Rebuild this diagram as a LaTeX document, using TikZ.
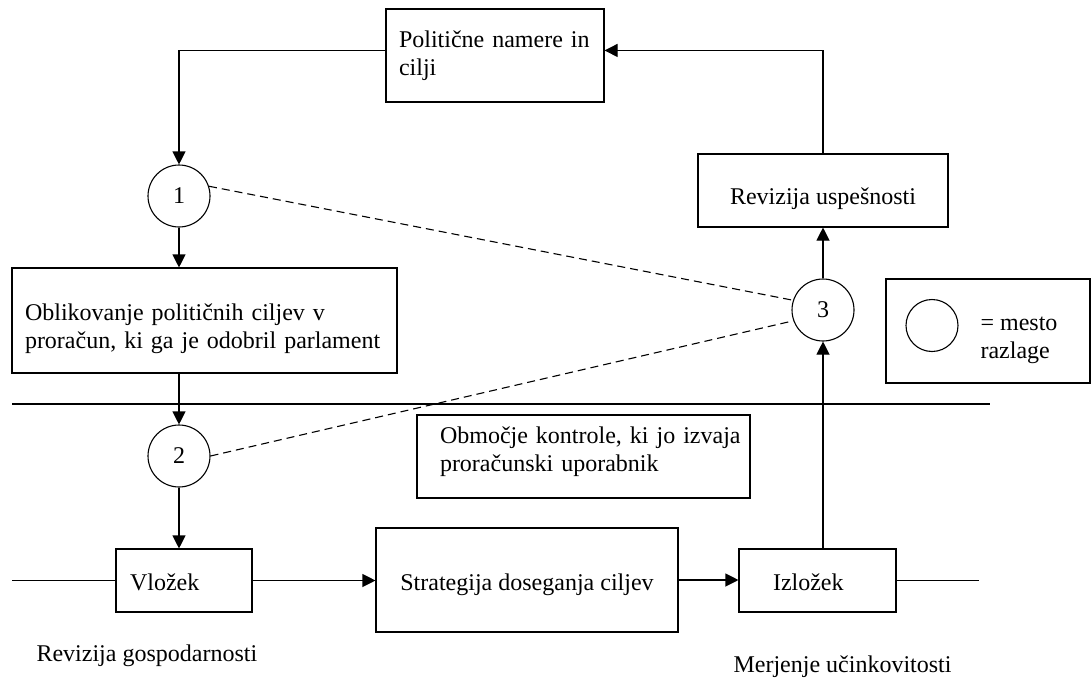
\documentclass[tikz,border=0pt]{standalone}
\usepackage{fontspec}
\setmainfont{Liberation Serif}
\usetikzlibrary{calc}
\usetikzlibrary{arrows.meta}

\begin{document}
\begin{tikzpicture}[x=1pt,y=-1pt,line width=1.1pt,>={Triangle[length=13pt,width=13pt]},font=\fontsize{24}{28}\selectfont] %% tikz nodes
	\tikzstyle{box}=[rectangle,draw,inner ysep=0pt,align=left];
	\tikzstyle{place}=[circle,draw,inner sep=0pt,minimum size=62pt];
	\tikzstyle{cut}=[dash pattern=on 8pt off 5pt];
	\useasboundingbox (0,0) rectangle (1091,677);
	\node[box,inner xsep=13pt,text width=192pt,minimum height=93pt,text height=16pt,text depth=31pt] (P) at (495,55.5) {Politične namere in\\cilji};
	\node[place] (M1) at (179,196) {1};
	\node[box,inner xsep=13pt,text width=359pt,minimum height=105pt,text height=20pt,text depth=21pt] (O) at (204.5,320.5) {Oblikovanje političnih ciljev v\\proračun, ki ga je odobril parlament};
	\node[place] (M2) at (179,456) {2};
	\node[box,inner xsep=23pt,text width=287pt,minimum height=83pt,text height=18pt,text depth=45pt] (K) at (583.5,456.5) {\mbox{Območje kontrole, ki jo izvaja}\\proračunski uporabnik};
	\node[box,inner xsep=14pt,text width=108pt,minimum height=63pt,text height=19pt,text depth=0pt] (V) at (184,580.5) {Vložek};
	\node[box,minimum width=302pt,minimum height=104pt,text height=20pt,text depth=0pt] (S) at (527,580) {Strategija doseganja ciljev};
	\node[box,inner xsep=34pt,text width=89pt,minimum height=63pt,text height=19pt,text depth=0pt] (I) at (817.5,580.5) {Izložek};
	\node[place] (M3) at (823,310) {3};
	\node[box,minimum width=250pt,minimum height=73pt,text height=27pt,text depth=0pt] (R) at (823,190.5) {Revizija uspešnosti};
	\node[box,minimum width=204pt,minimum height=104pt] (L) at (988,331) {};
	\node[place,minimum size=52pt] (Q) at (932,325.5) {};
	\node[anchor=base west,inner sep=0pt] (T) at (980,330) {= mesto};
	\node[anchor=base west,inner sep=0pt] (U) at (980,358) {razlage};
	\node[anchor=base west,inner sep=0pt] (G) at (36,661) {Revizija gospodarnosti};
	\node[anchor=base west,inner sep=0pt] (E) at (733,672) {Merjenje učinkovitosti};
	\coordinate (a) at (12,580.5);
	\coordinate (b) at (979,580.5);
	\coordinate (h1) at (12,404);
	\coordinate (h2) at (990,404);

	\draw (h1) -- (h2);
	\draw[->] ([yshift=-42pt]P.north west) -| (M1.north);
	\draw[->] (M1) -- (M1 |- O.north);
	\draw[->] (O.south -| M2) -- (M2);
	\draw[->] (M2) -- (M2 |- V.north);
	\draw (a) -- (V.west);
	\draw[->] (V.east) -- (V.east -| S.west);
	\draw[->] (S.east) -- (S.east -| I.west);
	\draw (I.east) -- (b);
	\draw[->] (M3 |- I.north) -- (M3);
	\draw[->] (M3) -- (M3 |- R.south);
	\draw[->] (R.north) |- ([yshift=-42pt]P.north east);
	\draw[cut] (M1.18) -- (M3.162);
	\draw[cut] (M2.east) -- (M3.200);
\end{tikzpicture}
\end{document}
